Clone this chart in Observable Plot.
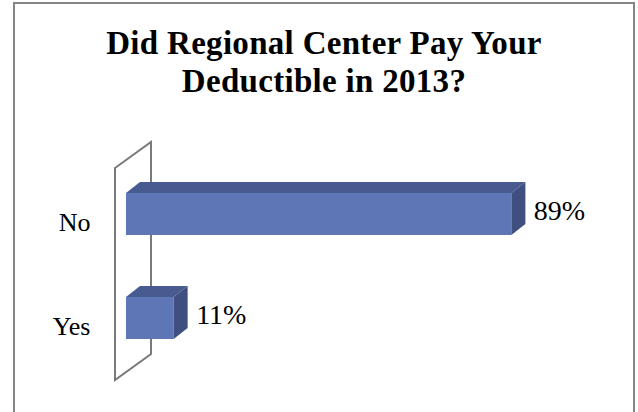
<!DOCTYPE html>
<html>
<head>
<meta charset="utf-8">
<script src="https://cdn.jsdelivr.net/npm/d3@7"></script>
<script src="https://cdn.jsdelivr.net/npm/@observablehq/plot@0.6"></script>
<style>
  html, body { margin: 0; padding: 0; background: #fff; }
  body { width: 638px; height: 412px; position: relative; overflow: hidden; }
  #frame { position: absolute; left: 13px; top: 2px; width: 622px; height: 430px; box-sizing: border-box; border: 2px solid #858585; }
  #title { position: absolute; left: 13px; top: 0; width: 622px; text-align: center; padding-top: 24px;
           font-family: "Liberation Serif", serif; font-weight: bold; font-size: 33px; letter-spacing: 0.3px; line-height: 38px; color: #000; }
  #chart { position: absolute; left: 0; top: 110px; }
  #chart text { font-family: "Liberation Serif", serif; }
</style>
</head>
<body>
<div id="frame"></div>
<div id="title">Did Regional Center Pay Your<br>Deductible in 2013?</div>
<div id="chart"></div>
<script>
// Data
const answers = ["No", "Yes"];
const percents = [89, 11];

const rows = answers.map((a, i) => ({answer: a, value: percents[i]}));

// 3D projection offsets (pixels)
const wallDepth = {dx: 36, dy: -26};
const barFront = {dx: 11, dy: -8};
const barDepth = {dx: 14, dy: -11};

const frontColor = "#5E76B5";
const topColor = "#485B91";
const sideColor = "#3E4F80";

function wall(index, scales, values, dims) {
  const x = scales.x, y = scales.y;
  const x0 = x(0);
  const [r0, r1] = y.range();
  const g = d3.create("svg:g");
  g.append("path")
    .attr("d", `M${x0},${r0}L${x0 + wallDepth.dx},${r0 + wallDepth.dy}L${x0 + wallDepth.dx},${r1 + wallDepth.dy}L${x0},${r1}Z`)
    .attr("fill", "none").attr("stroke", "#7a7a7a").attr("stroke-width", 2);
  return g.node();
}

function faces(index, scales) {
  const x = scales.x, y = scales.y;
  const bw = y.bandwidth();
  const g = d3.create("svg:g");
  rows.forEach(d => {
    const x0 = x(0) + barFront.dx, x1 = x(d.value) + barFront.dx;
    const yt = y(d.answer) + barFront.dy, yb = yt + bw;
    g.append("path")
      .attr("d", `M${x0},${yt}L${x1},${yt}L${x1 + barDepth.dx},${yt + barDepth.dy}L${x0 + barDepth.dx},${yt + barDepth.dy}Z`)
      .attr("fill", topColor);
    g.append("path")
      .attr("d", `M${x1},${yt}L${x1 + barDepth.dx},${yt + barDepth.dy}L${x1 + barDepth.dx},${yb + barDepth.dy}L${x1},${yb}Z`)
      .attr("fill", sideColor);
  });
  return g.node();
}

const plot = Plot.plot({
  width: 638,
  height: 302,
  marginLeft: 115,
  marginRight: 90,
  marginTop: 58,
  marginBottom: 32,
  style: {fontFamily: "Liberation Serif, serif", fontSize: "26px", color: "#000", background: "transparent", overflow: "visible"},
  x: {domain: [0, 100], axis: null},
  y: {domain: answers, paddingInner: 0.6, paddingOuter: 0.31, label: null, tickSize: 0, tickPadding: 25},
  marks: [
    wall,
    Plot.barX(rows, {x: "value", y: "answer", fill: frontColor, dx: barFront.dx, dy: barFront.dy}),
    faces,
    Plot.text(rows, {x: "value", y: "answer", text: d => d.value + "%", textAnchor: "start", dx: 33, dy: -11, fontSize: 28, fontFamily: "Liberation Serif", fill: "#000"})
  ]
});
document.getElementById("chart").appendChild(plot);
</script>
</body>
</html>
